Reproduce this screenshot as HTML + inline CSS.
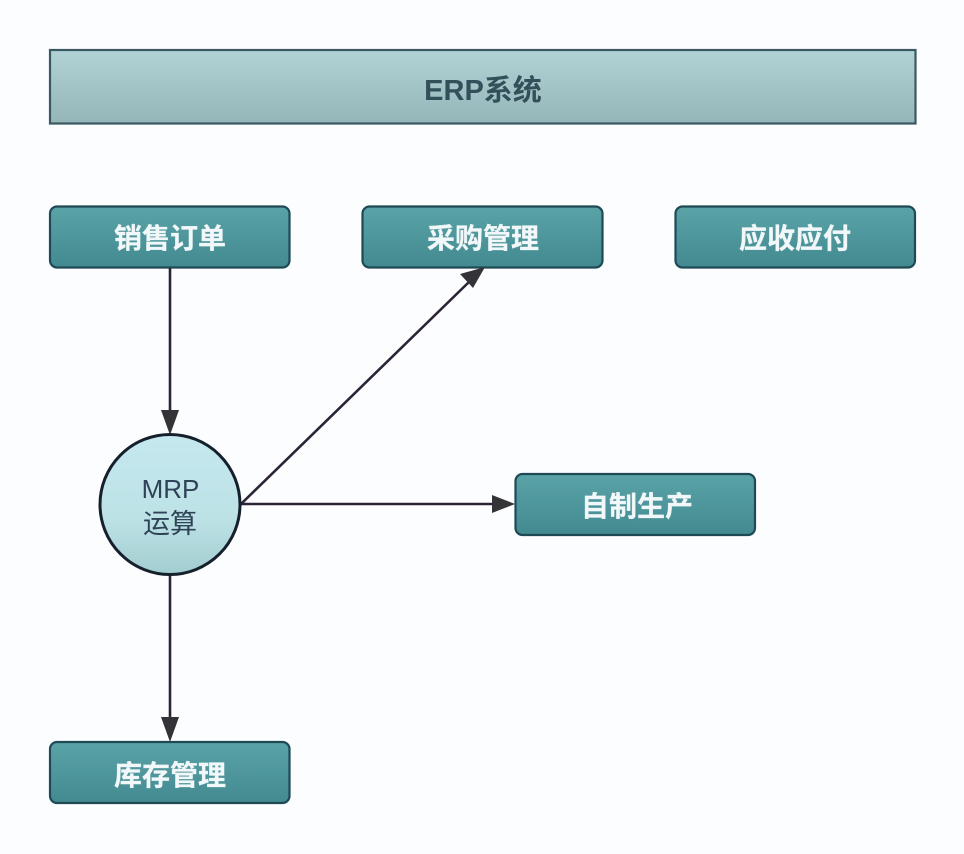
<!DOCTYPE html>
<html><head><meta charset="utf-8">
<style>
html,body{margin:0;padding:0;background:#fcfdff;}
body{width:964px;height:854px;overflow:hidden;position:relative;}
svg{position:absolute;left:0;top:0;}
text{font-family:"Liberation Sans","Noto Sans CJK SC",sans-serif;}
.b{font-size:28px;font-weight:700;fill:#f2f8f9;text-anchor:middle;stroke:#e8f2f4;stroke-width:.3px;}
</style></head><body>
<svg width="964" height="854" viewBox="0 0 964 854">
<defs>
<linearGradient id="t" x1="0" y1="0" x2="0" y2="1"><stop offset="0" stop-color="#b2d3d5"/><stop offset="1" stop-color="#94b6b9"/></linearGradient>
<linearGradient id="g" x1="0" y1="0" x2="0" y2="1"><stop offset="0" stop-color="#5aa3a7"/><stop offset="1" stop-color="#428a90"/></linearGradient>
<linearGradient id="c" x1="0" y1="0" x2="0" y2="1"><stop offset="0" stop-color="#c4e8ee"/><stop offset=".6" stop-color="#bde2e6"/><stop offset="1" stop-color="#a2cdd0"/></linearGradient>
</defs>
<rect x="50" y="50" width="865.500" height="73.500" fill="url(#t)" stroke="#3a5862" stroke-width="2.200"/>
<text x="483" y="100" font-size="29" font-weight="700" fill="#33505a" text-anchor="middle">ERP系统</text>

<rect x="50" y="206.500" width="239.500" height="61" rx="7" fill="url(#g)" stroke="#1f4a55" stroke-width="2.200"/>
<rect x="362.500" y="206.500" width="240" height="61" rx="7" fill="url(#g)" stroke="#1f4a55" stroke-width="2.200"/>
<rect x="675.500" y="206.500" width="239.500" height="61" rx="7" fill="url(#g)" stroke="#1f4a55" stroke-width="2.200"/>
<rect x="515.500" y="474" width="239.500" height="61" rx="7" fill="url(#g)" stroke="#1f4a55" stroke-width="2.200"/>
<rect x="50" y="742" width="239.500" height="61" rx="7" fill="url(#g)" stroke="#1f4a55" stroke-width="2.200"/>

<text class="b" x="170" y="248">销售订单</text>
<text class="b" x="483" y="248">采购管理</text>
<text class="b" x="795" y="248">应收应付</text>
<text class="b" x="637" y="516">自制生产</text>
<text class="b" x="170" y="785">库存管理</text>

<g stroke="#2a2436" stroke-width="2.600" fill="none">
<line x1="170" y1="268" x2="170" y2="412"/>
<line x1="170" y1="575" x2="170" y2="718"/>
<line x1="241" y1="504" x2="493" y2="504"/>
<line x1="241" y1="504" x2="470" y2="281"/>
</g>
<g fill="#333338">
<polygon points="161,410 179,410 170,435"/>
<polygon points="161,717 179,717 170,742"/>
<polygon points="492,495 492,513 515,504"/>
<polygon points="460,274 473,288 485,267"/>
</g>
<circle cx="170" cy="504.500" r="70" fill="url(#c)" stroke="#15202c" stroke-width="3"/>
<text x="170.500" y="498" font-size="26" fill="#2f4358" text-anchor="middle">MRP</text>
<text x="170" y="533" font-size="27" fill="#2f4358" text-anchor="middle">运算</text>
</svg>
</body></html>
